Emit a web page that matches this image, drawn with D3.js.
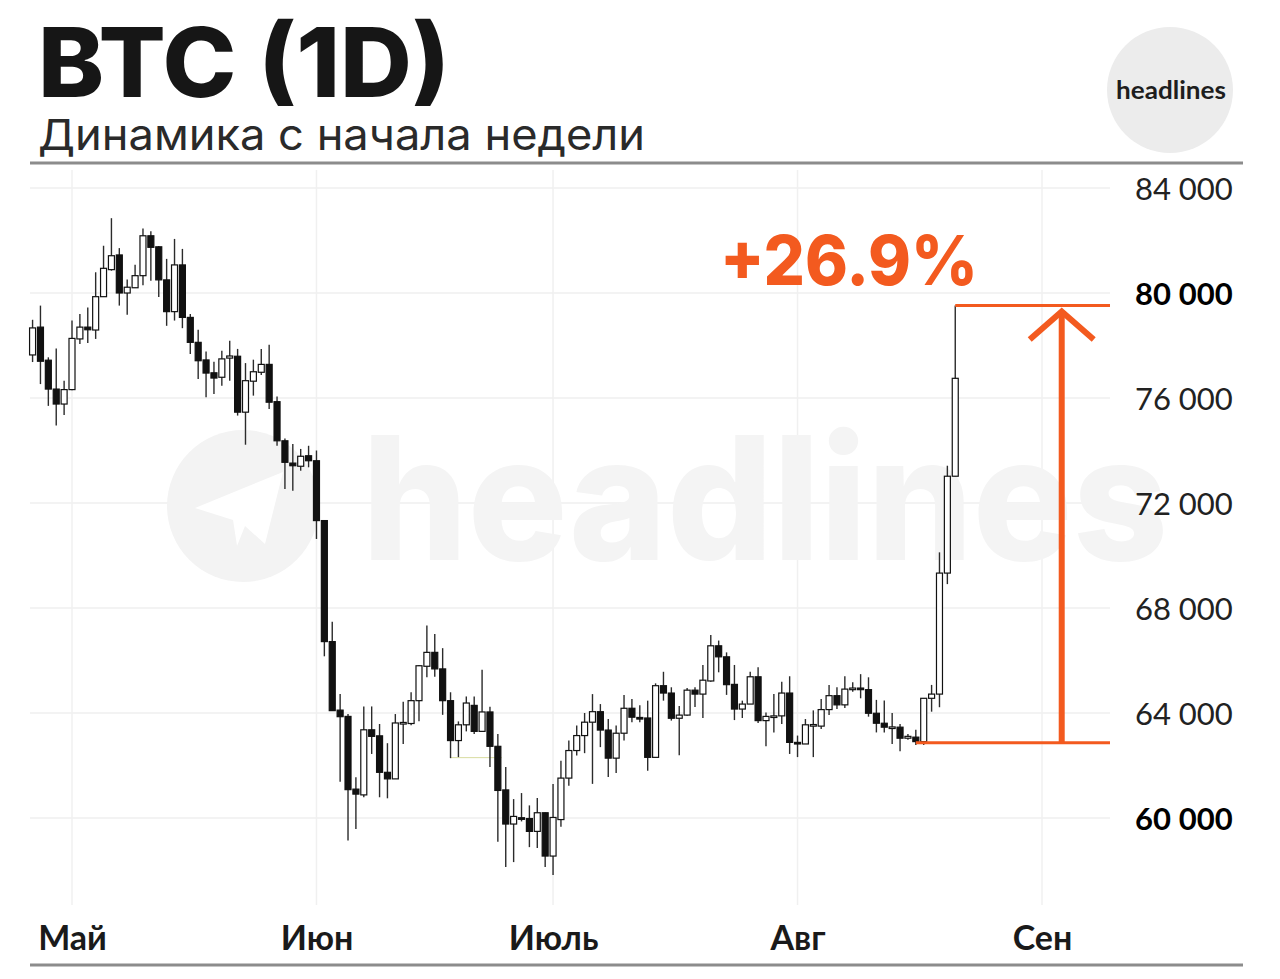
<!DOCTYPE html>
<html><head><meta charset="utf-8">
<script src="https://cdn.jsdelivr.net/npm/d3@7/dist/d3.min.js"></script>
<style>
html,body{margin:0;padding:0;background:#fff;}
svg{display:block;}
</style></head>
<body>
<svg id="chart" width="1280" height="979"></svg>
<script>
// ---------------- DATA ----------------
const titleText = "BTC (1D)";
const subtitleText = "Динамика с начала недели";
const brandText = "headlines";
const firstDay = new Date(2024, 3, 26);
const opens = [77640,78700,77440,76340,75770,76320,78250,78700,78590,79860,80890,81450,80000,80200,80660,82180,81760,80500,79290,81070,79070,78120,77450,76960,76790,77520,77590,75460,76640,76980,77280,75860,74370,73520,73400,73800,73610,71330,66720,64110,63870,61100,60880,63360,63130,61740,61490,63620,63600,64470,65780,66310,65680,64470,62950,63550,64290,63300,64040,62730,61070,59770,60010,59980,59490,60200,58550,59940,61520,62570,63140,63650,64050,63350,62280,63230,64180,63830,63810,62310,65040,64760,63800,63920,64870,64720,65220,66560,66140,65090,64150,64340,65380,63710,63860,63890,64760,62880,62820,63540,63500,64130,64660,64310,64930,64950,64890,63990,63610,63460,63460,63040,63080,62910,64560,64720,69330,73020];
const highs = [78980,79520,77550,77890,76660,78950,79200,79450,80790,81800,82850,81710,80510,81080,82460,82350,81790,81300,82060,81680,79200,78600,77770,77380,77800,78180,77870,77330,77460,77870,78030,76060,74460,74250,74060,74180,74000,71340,67480,64720,63960,61550,64250,64250,63580,62850,63960,64430,64790,65830,67330,67010,66470,64790,63680,64630,64630,65650,64240,63200,61940,60720,60950,60480,60760,60210,61300,62180,62950,63520,64000,64720,64340,63770,63520,64690,64530,64300,64470,65130,65570,64980,64270,64950,64980,65830,66970,66760,66310,65830,64470,65570,65740,64020,64720,65190,65400,63140,63770,64100,64530,65070,64980,65400,65170,65480,65360,64500,64480,64000,63580,63200,63360,64560,65070,70120,73420,79520];
const lows = [77370,76530,75700,74950,75350,76300,78060,78100,78250,79860,80850,79520,79170,80200,80300,80470,79850,78750,78950,78660,77680,76720,76030,76150,76470,76660,75330,74220,76090,76880,75580,74180,72530,72470,73230,73360,70630,66160,64080,61380,59140,59580,60790,62440,60790,60750,61490,62820,63530,63690,65360,65380,63930,62280,62320,63300,63200,63300,61940,59100,58130,58320,59870,58890,58860,58130,57830,59670,61230,62380,62470,61300,62700,61560,61710,62950,63650,63650,61800,62310,64470,63710,62390,63900,64230,63810,65190,65550,64690,63730,63810,64340,63620,62730,63260,63580,62440,62320,62820,62320,63390,63920,64150,64190,64810,64560,63860,63260,63260,62820,62540,62980,62780,62780,64050,64220,68910,73020];
const closes = [78670,77400,76340,75770,76320,78270,78700,78600,79860,80940,81420,80000,80220,80660,82180,81740,80500,79290,81070,79070,78120,77420,76950,76760,77490,77600,75460,76660,77000,77280,75840,74370,73550,73420,73780,73610,71330,66720,64090,63860,61080,60910,63360,63110,61740,61490,63620,63640,64470,65800,66310,65680,64470,62950,63550,64380,63300,64040,62730,61050,59770,60060,59980,59490,60200,58550,60020,61520,62570,63140,63650,64050,63350,62280,63230,64180,63840,63810,62310,65040,64760,63800,63920,64870,64720,65250,66560,66140,65080,64150,64340,65380,63710,63870,63890,64760,62880,62820,63550,63560,64130,64660,64310,64910,64950,64890,63990,63610,63460,63470,63040,63110,62910,64560,64720,69330,73020,76750];
const yTicks = [84000,80000,76000,72000,68000,64000,60000];
const yBoldTicks = [80000,60000];
const monthDates = [new Date(2024,4,1),new Date(2024,5,1),new Date(2024,6,1),new Date(2024,7,1),new Date(2024,8,1)];
const monthLabels = ["Май","Июн","Июль","Авг","Сен"];
const changeLabel = "+26.9%";
const changeLow = 62870;
const changeHigh = 79520;
const changeLowStart = new Date(2024,7,16);
const changeHighStart = new Date(2024,7,21);
const arrowDate = new Date(2024,8,3,12);
const faintLevel = 62300;
const faintFrom = new Date(2024,5,18);
const faintTo = new Date(2024,5,24,12);

// ---------------- LAYOUT ----------------
const svg = d3.select("#chart");
const plotLeft = 30, plotRight = 1110, plotTop = 170, plotBottom = 905;
const orange = "#f35a1f";
const x = d3.scaleTime().domain([monthDates[0], monthDates[4]]).range([72, 1042]);
const y = d3.scaleLinear().domain([60000, 84000]).range([818, 188]);
const days = opens.map((_, i) => d3.timeDay.offset(firstDay, i));
const candles = days.map((d, i) => ({d, o: opens[i], h: highs[i], l: lows[i], c: closes[i]}));

// header
svg.append("text").attr("x", 38).attr("y", 97).attr("font-family", "Inter, Roboto, sans-serif")
  .attr("font-weight", 800).attr("font-size", 96).attr("fill", "#161616")
  .attr("textLength", 412).attr("lengthAdjust", "spacingAndGlyphs").text(titleText);
svg.append("text").attr("x", 38).attr("y", 150).attr("font-family", "Inter, Roboto, sans-serif")
  .attr("font-weight", 400).attr("font-size", 43).attr("fill", "#2a2a2a")
  .attr("textLength", 607).attr("lengthAdjust", "spacingAndGlyphs").text(subtitleText);
svg.append("circle").attr("cx", 1170).attr("cy", 90).attr("r", 63).attr("fill", "#ececec");
svg.append("text").attr("x", 1171).attr("y", 99).attr("text-anchor", "middle")
  .attr("font-family", "Lato, Inter, sans-serif").attr("font-weight", 700).attr("font-size", 25)
  .attr("fill", "#1e1e1e").attr("textLength", 110).attr("lengthAdjust", "spacingAndGlyphs").text(brandText);
svg.append("line").attr("x1", 30).attr("x2", 1243).attr("y1", 163).attr("y2", 163)
  .attr("stroke", "#8c8c8c").attr("stroke-width", 3);
svg.append("line").attr("x1", 30).attr("x2", 1243).attr("y1", 965).attr("y2", 965)
  .attr("stroke", "#8c8c8c").attr("stroke-width", 3);

// grid
const grid = svg.append("g");
grid.selectAll(".hg").data(yTicks).join("line")
  .attr("x1", plotLeft).attr("x2", plotRight).attr("y1", d => y(d)).attr("y2", d => y(d))
  .attr("stroke", "#efefef").attr("stroke-width", 1.5);
grid.selectAll(".vg").data(monthDates).join("line")
  .attr("x1", d => x(d)).attr("x2", d => x(d)).attr("y1", plotTop).attr("y2", plotBottom)
  .attr("stroke", "#f0f0f0").attr("stroke-width", 1.5);

// watermark
const wm = svg.append("g");
wm.append("circle").attr("cx", 243).attr("cy", 506).attr("r", 76).attr("fill", "#f3f3f3");
wm.append("path").attr("transform", "translate(243,506)")
  .attr("d", "M-48,2 L40,-34 L22,38 L2,20 L-6,40 L-10,14 Z M-10,14 L30,-22 L2,20 Z")
  .attr("fill", "#ffffff");
wm.append("text").attr("x", 362).attr("y", 560).attr("font-family", "Inter, Roboto, sans-serif")
  .attr("font-weight", 800).attr("font-size", 172).attr("fill", "#f4f4f4")
  .attr("textLength", 806).attr("lengthAdjust", "spacingAndGlyphs").text(brandText);

// faint level line
svg.append("line").attr("x1", x(faintFrom)).attr("x2", x(faintTo))
  .attr("y1", y(faintLevel)).attr("y2", y(faintLevel)).attr("stroke", "#d9dca0").attr("stroke-width", 1);

// candles
const cg = svg.append("g");
const bw = 6;
cg.selectAll(".wick").data(candles).join("line")
  .attr("x1", d => x(d.d)).attr("x2", d => x(d.d)).attr("y1", d => y(d.h)).attr("y2", d => y(d.l))
  .attr("stroke", "#2b2b2b").attr("stroke-width", 1.4);
cg.selectAll(".body").data(candles).join("rect")
  .attr("x", d => x(d.d) - bw / 2).attr("width", bw)
  .attr("y", d => y(Math.max(d.o, d.c)))
  .attr("height", d => Math.max(1.6, Math.abs(y(d.o) - y(d.c))))
  .attr("fill", d => d.c >= d.o ? "#ffffff" : "#111111")
  .attr("stroke", "#111111").attr("stroke-width", 1.2);

// axes
const yAxis = d3.axisRight(y).tickValues(yTicks).tickSize(0).tickPadding(0)
  .tickFormat(d => d3.format(",")(d).replace(",", "\u202F"));
const ya = svg.append("g").attr("transform", "translate(1135,0)").call(yAxis);
ya.select(".domain").remove();
ya.selectAll("text").attr("font-family", "Lato, 'Open Sans', sans-serif").attr("font-size", 31)
  .attr("fill", d => yBoldTicks.includes(d) ? "#000" : "#222")
  .attr("font-weight", d => yBoldTicks.includes(d) ? 700 : 400)
  .attr("text-anchor", "start").attr("dy", "0.36em");

const xAxis = d3.axisBottom(x).tickValues(monthDates).tickSize(0).tickPadding(0)
  .tickFormat((d, i) => monthLabels[i]);
const xa = svg.append("g").attr("transform", "translate(0,950)").call(xAxis);
xa.select(".domain").remove();
xa.selectAll("text").attr("font-family", "Lato, 'Open Sans', sans-serif").attr("font-size", 34)
  .attr("font-weight", 700).attr("fill", "#1a1a1a").attr("dy", 0);

// annotation
const an = svg.append("g");
an.append("line").attr("x1", x(changeHighStart)).attr("x2", plotRight)
  .attr("y1", y(changeHigh)).attr("y2", y(changeHigh)).attr("stroke", orange).attr("stroke-width", 3);
an.append("line").attr("x1", x(changeLowStart)).attr("x2", plotRight)
  .attr("y1", y(changeLow)).attr("y2", y(changeLow)).attr("stroke", orange).attr("stroke-width", 3);
const ax = x(arrowDate);
an.append("line").attr("x1", ax).attr("x2", ax).attr("y1", y(changeLow)).attr("y2", y(changeHigh) + 6)
  .attr("stroke", orange).attr("stroke-width", 6);
an.append("path").attr("d", `M${ax - 32},${y(changeHigh) + 34} L${ax},${y(changeHigh) + 6} L${ax + 32},${y(changeHigh) + 34}`)
  .attr("fill", "none").attr("stroke", orange).attr("stroke-width", 6).attr("stroke-linejoin", "miter");
an.append("text").attr("x", 720).attr("y", 285).attr("font-family", "Inter, Roboto, sans-serif")
  .attr("font-weight", 800).attr("font-size", 69).attr("fill", orange)
  .attr("textLength", 258).attr("lengthAdjust", "spacingAndGlyphs").text(changeLabel);
</script>
</body></html>
